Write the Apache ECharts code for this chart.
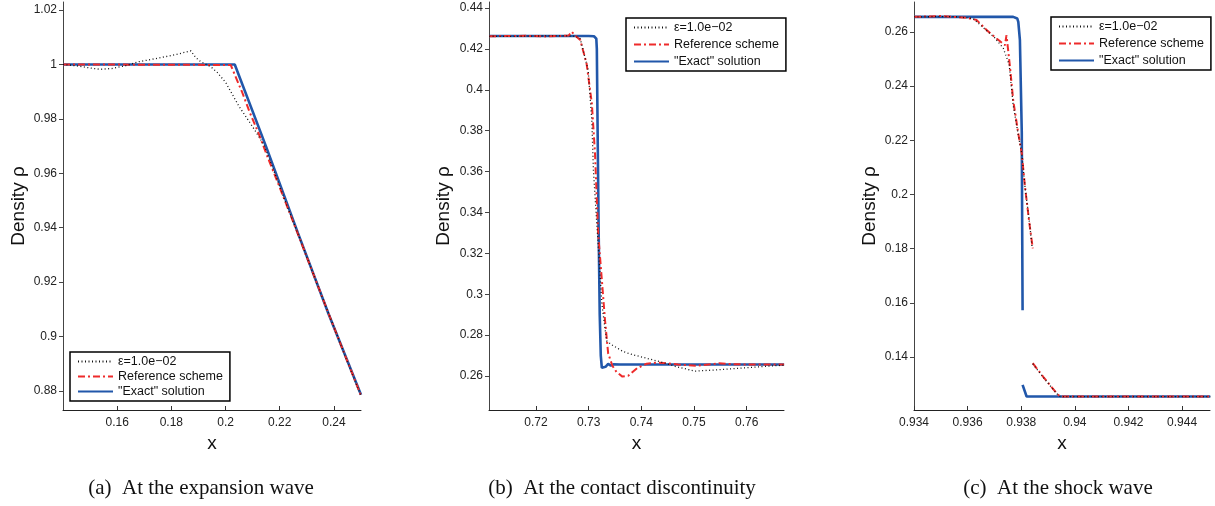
<!DOCTYPE html>
<html>
<head>
<meta charset="utf-8">
<script src="https://cdn.jsdelivr.net/npm/echarts@6/dist/echarts.min.js"></script>
<style>
  html, body { margin: 0; padding: 0; background: #fff; }
  #chart { width: 1215px; height: 506px; }
</style>
</head>
<body>
<div id="chart"></div>
<script>
// ---- (a) expansion wave ----
const expEps = [[0.14,1.0],[0.145,0.9995],[0.150,0.9987],[0.1537,0.9982],[0.158,0.9985],[0.163,0.9995],[0.168,1.001],[0.1756,1.0024],[0.182,1.0037],[0.1872,1.005],[0.189,1.0025],[0.1909,1.001],[0.1946,0.9991],[0.197,0.997],[0.2001,0.9933],[0.2049,0.9847],[0.2098,0.9774],[0.2141,0.9706],[0.218,0.9605],[0.222,0.9498],[0.228,0.9345],[0.234,0.9188],[0.240,0.9035],[0.245,0.8907],[0.25,0.8783]];
const expRef = [[0.14,1.0],[0.2019,0.9998],[0.2035,0.9960],[0.2062,0.9896],[0.209,0.9822],[0.212,0.9752],[0.2155,0.9660],[0.22,0.9548],[0.226,0.9395],[0.232,0.9240],[0.238,0.9085],[0.244,0.8934],[0.25,0.8783]];
const expExact = [[0.14,1.0],[0.2034,1.0],[0.215,0.9697],[0.2267,0.9381],[0.238,0.9084],[0.25,0.8786]];
const expXTicks = [0.16,0.18,0.2,0.22,0.24];
const expYTicks = [0.88,0.9,0.92,0.94,0.96,0.98,1,1.02];

// ---- (b) contact discontinuity ----
const conEps = [[0.7111,0.4262],[0.715,0.4261],[0.720,0.4263],[0.725,0.4264],[0.7275,0.4262],[0.7284,0.4250],[0.7299,0.4096],[0.7306,0.3850],[0.7309,0.3607],[0.7315,0.3363],[0.7321,0.3118],[0.7325,0.2955],[0.7334,0.2772],[0.7344,0.2752],[0.7366,0.2719],[0.7385,0.2703],[0.7410,0.2687],[0.7435,0.2670],[0.7467,0.2645],[0.7502,0.2624],[0.7537,0.2629],[0.7601,0.2641],[0.7652,0.2650],[0.7671,0.2653]];
const conRef = [[0.7111,0.4262],[0.718,0.4264],[0.722,0.4261],[0.7262,0.4265],[0.7268,0.4284],[0.7274,0.4266],[0.7284,0.4243],[0.7296,0.4129],[0.7306,0.3934],[0.7312,0.3690],[0.7315,0.3493],[0.7318,0.3298],[0.7325,0.3070],[0.7331,0.2874],[0.7337,0.2711],[0.7345,0.2650],[0.7353,0.2619],[0.7364,0.2597],[0.7375,0.2601],[0.7392,0.2638],[0.7410,0.2660],[0.7429,0.2665],[0.7448,0.2662],[0.7470,0.2656],[0.7505,0.2650],[0.7547,0.2662],[0.7580,0.2657],[0.7671,0.2656]];
const conExact = [[0.7111,0.4263],[0.7300,0.4263],[0.7310,0.4262],[0.73145,0.4250],[0.73155,0.4200],[0.7317,0.3800],[0.7319,0.3300],[0.7321,0.2900],[0.7323,0.2700],[0.7325,0.2640],[0.7328,0.2634],[0.7332,0.2645],[0.7337,0.2659],[0.7342,0.2651],[0.7347,0.2657],[0.7360,0.2656],[0.7671,0.2656]];
const conXTicks = [0.72,0.73,0.74,0.75,0.76];
const conYTicks = [0.26,0.28,0.3,0.32,0.34,0.36,0.38,0.4,0.42,0.44];

// ---- (c) shock wave ('-' marks a break in the line) ----
const shkEps = [[0.934,0.2656],[0.9355,0.2657],[0.9362,0.2650],[0.9366,0.2615],[0.9370,0.2580],[0.93733,0.2540],[0.93755,0.2480],[0.9377,0.2330],[0.93789,0.2220],[0.93802,0.2150],[0.93814,0.2030],[0.93832,0.1885],[0.93840,0.1810],[0.93842,'-'],[0.93843,0.1375],[0.93882,0.1325],[0.93932,0.1265],[0.93945,0.1254],[0.94505,0.1254]];
const shkRef = [[0.934,0.2656],[0.935,0.2659],[0.936,0.2652],[0.93634,0.2644],[0.93671,0.2607],[0.93708,0.2576],[0.93739,0.2551],[0.93745,0.2588],[0.93758,0.2471],[0.9377,0.2348],[0.93789,0.2225],[0.93802,0.2152],[0.93814,0.2028],[0.9382,0.1979],[0.93832,0.1881],[0.93843,0.1801],[0.93843,'-'],[0.93843,0.1377],[0.93882,0.1327],[0.93932,0.1266],[0.93945,0.1254],[0.94505,0.1254]];
const shkExact = [[0.934,0.2656],[0.9377,0.2656],[0.93785,0.2650],[0.93789,0.2637],[0.93795,0.2570],[0.93802,0.2227],[0.93803,0.1980],[0.93805,0.1573],[0.93805,'-'],[0.93805,0.1297],[0.9382,0.1254],[0.94505,0.1254]];
const shkXTicks = [0.934,0.936,0.938,0.94,0.942,0.944];
const shkYTicks = [0.14,0.16,0.18,0.2,0.22,0.24,0.26];

const legendNames = ['ε=1.0e−02', 'Reference scheme', '"Exact" solution'];
const captions = ['(a)  At the expansion wave', '(b)  At the contact discontinuity', '(c)  At the shock wave'];

const SANS = '"Liberation Sans", Arial, Helvetica, sans-serif';
const SERIF = '"Liberation Serif", "Times New Roman", serif';
const BLUE = '#2157aa';
const RED = '#ee2b2b';

const panels = [
  { left: 63,  width: 298, x: [0.14, 0.25],      y: [0.87302, 1.02294], xt: expXTicks, yt: expYTicks, data: [expEps, expRef, expExact], legend: { left: 70, top: 352, gap: 2 }, cap: 201, nameGap: 34.5 },
  { left: 489, width: 295, x: [0.71108, 0.76708], y: [0.24337, 0.44294], xt: conXTicks, yt: conYTicks, data: [conEps, conRef, conExact], legend: { left: 626, top: 18, gap: 4 }, cap: 622, nameGap: 36 },
  { left: 914, width: 296, x: [0.934, 0.94504],   y: [0.12043, 0.27108], xt: shkXTicks, yt: shkYTicks, data: [shkEps, shkRef, shkExact], legend: { left: 1051, top: 17, gap: 4 }, cap: 1058, nameGap: 35 }
];

const fmt = v => String(+v.toFixed(4));

const grid = [], xAxis = [], yAxis = [], series = [], legend = [], graphic = [];
panels.forEach((p, i) => {
  grid.push({ left: p.left, width: p.width, top: 2, bottom: 96 });
  xAxis.push({
    type: 'value', gridIndex: i, min: p.x[0], max: p.x[1],
    name: 'x', nameLocation: 'middle', nameGap: 22,
    nameTextStyle: { fontFamily: SANS, fontSize: 19, color: '#111' },
    axisLine: { lineStyle: { color: '#222', width: 1 } },
    axisTick: { inside: true, length: 4, customValues: p.xt, lineStyle: { color: '#333' } },
    axisLabel: { customValues: p.xt, formatter: fmt, margin: 7, fontFamily: SANS, fontSize: 12, color: '#222' },
    splitLine: { show: false }
  });
  yAxis.push({
    type: 'value', gridIndex: i, min: p.y[0], max: p.y[1],
    name: 'Density ρ', nameLocation: 'middle', nameGap: p.nameGap,
    nameTextStyle: { fontFamily: SANS, fontSize: 19, color: '#111' },
    axisLine: { show: true, lineStyle: { color: '#444', width: 1 } },
    axisTick: { show: true, inside: false, length: 4, customValues: p.yt, lineStyle: { color: '#444' } },
    axisLabel: { customValues: p.yt, formatter: fmt, margin: 6, fontFamily: SANS, fontSize: 12, color: '#222' },
    splitLine: { show: false }
  });
  const styles = [
    { color: '#111', width: 1.3, type: [1, 2.5] },
    { color: RED, width: 2, type: [7, 3, 2, 3] },
    { color: BLUE, width: 2.6, type: 'solid' }
  ];
  p.data.forEach((d, k) => {
    series.push({
      type: 'line', name: legendNames[k], xAxisIndex: i, yAxisIndex: i,
      data: d, symbol: 'none', showSymbol: false, connectNulls: false, animation: false,
      z: k === 2 ? 2 : (k === 1 ? 3 : 4),
      lineStyle: styles[k], itemStyle: { color: styles[k].color }
    });
  });
  legend.push({
    data: legendNames, orient: 'vertical', left: p.legend.left, top: p.legend.top,
    padding: [3, 7, 3, 7], itemGap: p.legend.gap, itemWidth: 35, itemHeight: 14,
    borderColor: '#000', borderWidth: 1.5, backgroundColor: '#fff',
    itemStyle: { opacity: 0 },
    textStyle: { fontFamily: SANS, fontSize: 12.5, color: '#111' },
    selectedMode: false
  });
  graphic.push({
    type: 'text', x: p.cap, y: 488,
    style: { text: captions[i], font: '21px ' + SERIF, fill: '#111', textAlign: 'center', textVerticalAlign: 'middle' }
  });
});

const chart = echarts.init(document.getElementById('chart'), null, { renderer: 'canvas' });
chart.setOption({ animation: false, backgroundColor: '#fff', grid, xAxis, yAxis, series, legend, graphic });
</script>
</body>
</html>
